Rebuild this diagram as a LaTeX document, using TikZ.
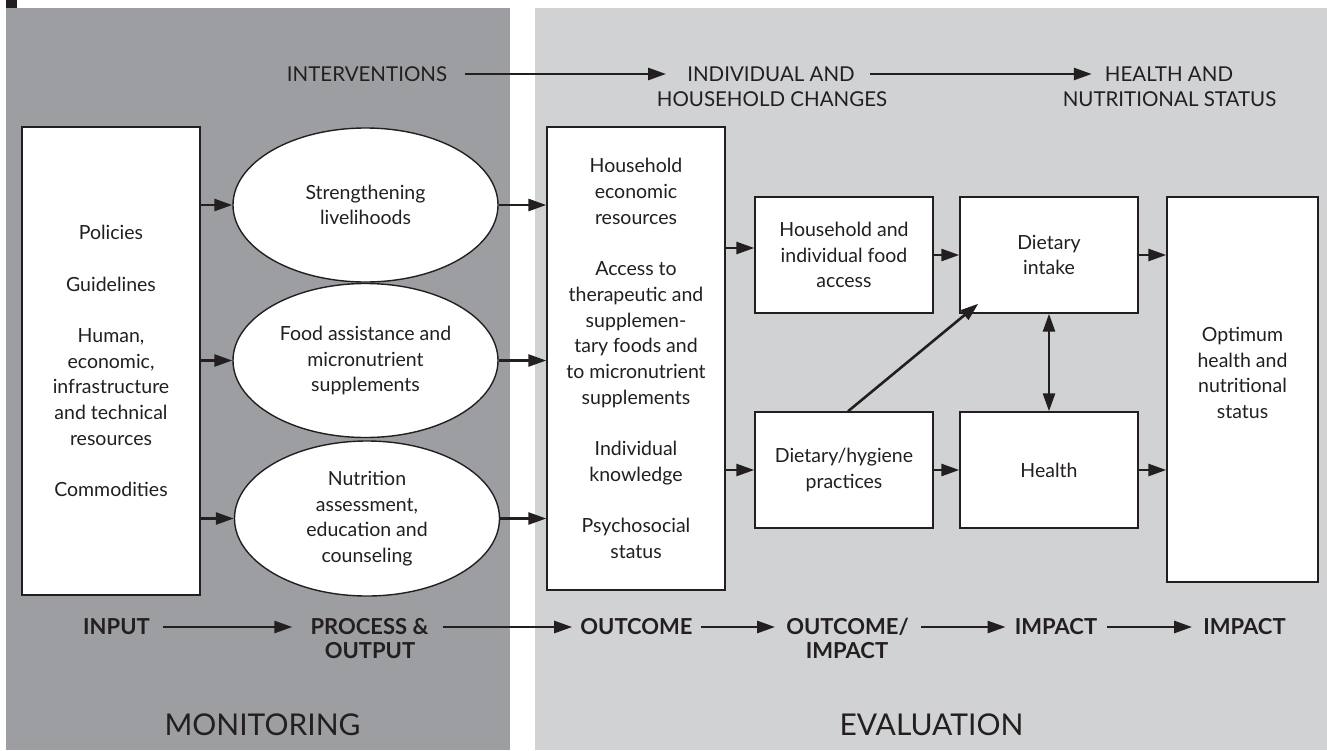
\documentclass[tikz,border=0pt]{standalone}
\usepackage{fontspec}
\setmainfont{Lato}
\usetikzlibrary{arrows.meta,shapes.geometric}
\definecolor{ink}{HTML}{231F20}
\definecolor{darkpanel}{HTML}{9D9EA2}
\definecolor{lightpanel}{HTML}{D1D2D4}
\begin{document}
\begin{tikzpicture}[x=1pt,y=-1pt,
  every node/.style={text=ink, font=\fontsize{19.5}{25.7}\selectfont},
  box/.style={draw=ink, line width=1.4pt, fill=white, align=center, inner sep=0pt},
  oval/.style={ellipse, draw=ink, line width=1.4pt, fill=white, align=center, inner sep=0pt,
               minimum width=265pt, minimum height=154pt},
  head/.style={font=\fontsize{20.5}{25}\selectfont, inner sep=0pt},
  stage/.style={font=\fontsize{22}{24}\selectfont\bfseries, inner sep=0pt},
  big/.style={font=\fontsize{30}{32}\selectfont, inner sep=0pt},
  flow/.style={draw=ink, line width=2.6pt, -{Triangle[length=18pt,width=12pt]}},
  both/.style={draw=ink, line width=2.6pt, {Triangle[length=18pt,width=12pt]}-{Triangle[length=18pt,width=12pt]}},
]
\useasboundingbox (0,0) rectangle (1327,750);
% panels
\fill[darkpanel] (6,8) rectangle (510,750);
\fill[lightpanel] (535,8) rectangle (1327,750);
\fill[ink] (6,0) rectangle (17,8);

% header row
\node[head] (h1) at (367,74) {INTERVENTIONS};
\node[head] (h2a) at (771,74) {INDIVIDUAL AND};
\node[head] (h2b) at (772,99) {HOUSEHOLD CHANGES};
\node[head] (h3a) at (1169,74) {HEALTH AND};
\node[head] (h3b) at (1169.5,99) {NUTRITIONAL STATUS};
\draw[flow, shorten <=18pt, shorten >=21pt] (h1.east) -- (h2a.west);
\draw[flow, shorten <=15pt, shorten >=13pt] (h2a.east) -- (h3a.west);

% inputs
\node[box, minimum width=178pt, minimum height=468pt] (inp) at (111,361)
  {Policies\\[25.7pt]Guidelines\\[25.7pt]Human,\\economic,\\infrastructure\\and technical\\resources\\[25.7pt]Commodities};

% processes
\node[oval] (e1) at (365.5,205) {Strengthening\\livelihoods};
\node[oval] (e2) at (365.5,360.5) {Food assistance and\\micronutrient\\supplements};
\node[oval, minimum height=155pt] (e3) at (367,518.5) {Nutrition\\assessment,\\education and\\counseling};

% outcomes
\node[box, minimum width=178pt, minimum height=463pt] (mid) at (636,358.5)
  {Household\\economic\\resources\\[25.7pt]Access to\\therapeutic and\\supplemen-\\tary foods and\\to micronutrient\\supplements\\[25.7pt]Individual\\knowledge\\[25.7pt]Psychosocial\\status};

\node[box, minimum width=178pt, minimum height=116pt] (fa) at (844,255) {Household and\\individual food\\access};
\node[box, minimum width=178pt, minimum height=116pt] (di) at (1049,255) {Dietary\\intake};
\node[box, minimum width=178pt, minimum height=116pt] (pr) at (844,470) {Dietary/hygiene\\practices};
\node[box, minimum width=178pt, minimum height=116pt] (he) at (1049,470) {Health};
\node[box, minimum width=151pt, minimum height=385pt] (op) at (1242.5,389.5)
  {Optimum\\health and\\nutritional\\status\\\strut};

% connectors
\draw[flow] (inp.east |- e1.west) -- (e1.west);
\draw[flow] (inp.east |- e2.west) -- (e2.west);
\draw[flow] (inp.east |- e3.west) -- (e3.west);
\draw[flow] (e1.east) -- (e1.east -| mid.west);
\draw[flow] (e2.east) -- (e2.east -| mid.west);
\draw[flow] (e3.east) -- (e3.east -| mid.west);
\draw[flow, transform canvas={yshift=7pt}] (mid.east |- fa.west) -- (fa.west);
\draw[flow] (mid.east |- pr.west) -- (pr.west);
\draw[flow] (fa.east) -- (di.west);
\draw[flow] (pr.east) -- (he.west);
\draw[flow] (di.east) -- (di.east -| op.west);
\draw[flow] (he.east) -- (he.east -| op.west);
\draw[flow] ([xshift=4pt]pr.north) -- ([xshift=19pt,yshift=10pt]di.south west);
\draw[both] (di.south) -- (he.north);

% stage row
\node[stage] (b1) at (116.5,627) {INPUT};
\node[stage] (b2a) at (369.5,627) {PROCESS \&};
\node[stage] (b2b) at (370,651) {OUTPUT};
\node[stage] (b3) at (636.5,627) {OUTCOME};
\node[stage] (b4a) at (847.5,627) {OUTCOME/};
\node[stage] (b4b) at (847,651) {IMPACT};
\node[stage] (b5) at (1056,627) {IMPACT};
\node[stage] (b6) at (1244.5,627) {IMPACT};
\draw[flow, shorten <=13pt, shorten >=18pt] (b1.east) -- (b2a.west);
\draw[flow, shorten <=14pt, shorten >=8pt] (b2a.east) -- (b3.west);
\draw[flow, shorten <=8pt, shorten >=11pt] (b3.east) -- (b4a.west);
\draw[flow, shorten <=12pt, shorten >=9pt] (b4a.east) -- (b5.west);
\draw[flow, shorten <=10pt, shorten >=11pt] (b5.east) -- (b6.west);

% panel titles
\node[big] (mon) at (262.5,725) {MONITORING};
\node[big] (eva) at (931.5,725) {EVALUATION};
\end{tikzpicture}
\end{document}
